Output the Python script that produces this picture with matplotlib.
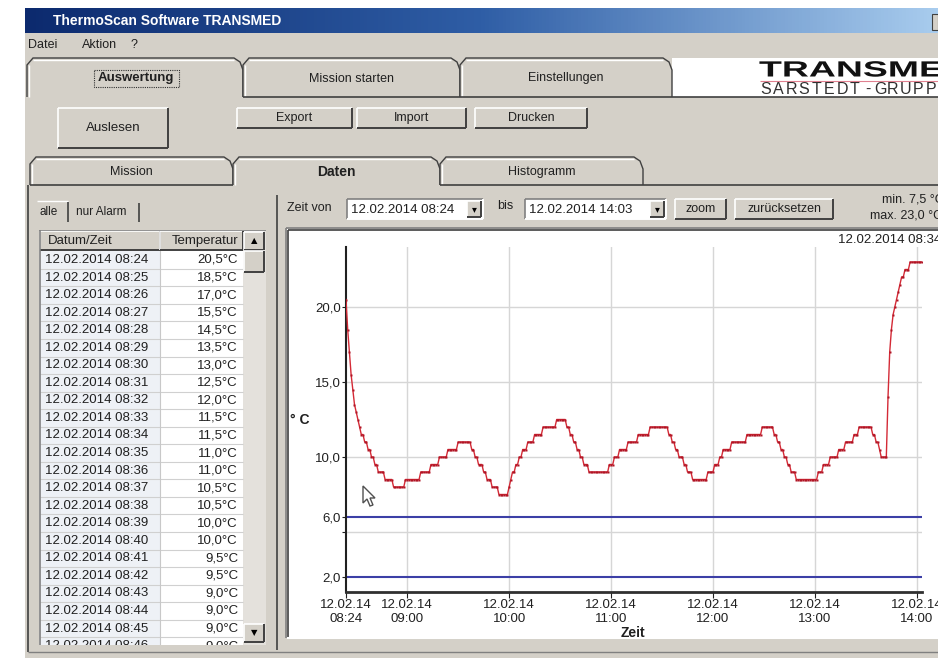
import numpy as np
import matplotlib
matplotlib.use('Agg')
import matplotlib.pyplot as plt
import matplotlib.dates as mdates
from matplotlib.patches import Rectangle, Polygon, PathPatch
from matplotlib.colors import LinearSegmentedColormap
from matplotlib.textpath import TextPath
from matplotlib.font_manager import FontProperties
from matplotlib.transforms import Affine2D

plt.rcParams['font.family'] = ['Liberation Sans', 'DejaVu Sans']

# temperature log, one value per minute from 08:24, stored as steps (level, minutes)
step_levels = [20.5, 18.5, 17.0, 15.5, 14.5, 13.5, 13.0, 12.5, 12.0, 11.5, 11.0, 10.5, 10.0, 9.5, 9.0,
               8.5, 8.0, 8.5, 9.0, 9.5, 10.0, 10.5, 11.0,
               10.5, 10.0, 9.5, 9.0, 8.5, 8.0, 7.5,
               8.0, 8.5, 9.0, 9.5, 10.0, 10.5, 11.0, 11.5, 12.0, 12.5,
               12.0, 11.5, 11.0, 10.5, 10.0, 9.5, 9.0,
               9.5, 10.0, 10.5, 11.0, 11.5, 12.0,
               11.5, 11.0, 10.5, 10.0, 9.5, 9.0, 8.5,
               9.0, 9.5, 10.0, 10.5, 11.0, 11.5, 12.0,
               11.5, 11.0, 10.5, 10.0, 9.5, 9.0, 8.5,
               9.0, 9.5, 10.0, 10.5, 11.0, 11.5, 12.0,
               11.5, 11.0, 10.5, 10.0,
               14.0, 17.0, 18.5, 19.5, 20.0, 20.5, 21.0, 21.5, 22.0, 22.5, 23.0]
step_minutes = [1, 1, 1, 1, 1, 1, 1, 1, 1, 2, 2, 2, 2, 2, 4,
                5, 7, 9, 6, 5, 5, 6, 8,
                2, 2, 3, 2, 3, 4, 6,
                1, 1, 2, 2, 2, 3, 4, 5, 8, 6,
                2, 2, 2, 2, 2, 3, 12,
                3, 3, 5, 6, 7, 11,
                2, 2, 2, 3, 2, 3, 9,
                4, 3, 2, 5, 9, 9, 7,
                2, 2, 2, 2, 2, 3, 13,
                3, 4, 5, 4, 5, 3, 8,
                2, 2, 1, 4,
                1, 1, 1, 1, 1, 1, 1, 1, 2, 3, 8]

start_time = np.datetime64('2014-02-12T08:24')
temps = np.repeat(step_levels, step_minutes)
times = start_time + np.arange(len(temps)) * np.timedelta64(1, 'm')

alarm_levels = [6.0, 2.0]
grid_levels = [5, 10, 15, 20]
y_ticks = [2, 5, 6, 10, 15, 20]
y_tick_labels = ['2,0', '', '6,0', '10,0', '15,0', '20,0']
x_ticks = np.array(['2014-02-12T08:24', '2014-02-12T09:00', '2014-02-12T10:00', '2014-02-12T11:00',
                    '2014-02-12T12:00', '2014-02-12T13:00', '2014-02-12T14:00'], dtype='datetime64[m]')
table_rows = 23
cursor_index = 10

W, H = 938, 658
FACE = '#D4D0C8'
DARK = '#404040'
MID = '#808080'


def frac(x0, y0, x1, y1):
    return [x0 / W, 1 - y1 / H, (x1 - x0) / W, (y1 - y0) / H]


def fmt_c(v):
    return ('%.1f' % v).replace('.', ',')


def fmt_dt(t):
    s = str(t)
    return '%s.%s.%s %s' % (s[8:10], s[5:7], s[0:4], s[11:16])


fig = plt.figure(figsize=(W / 100, H / 100), dpi=100)
ui = fig.add_axes([0, 0, 1, 1])
ui.axis('off')


def line(x0, y0, x1, y1, c=DARK, lw=1, ax=None):
    (ax or ui).plot([x0, x1], [y0, y1], color=c, lw=lw, solid_capstyle='butt')


def bevel(x0, y0, x1, y1, face=FACE, raised=True, ax=None):
    a = ax or ui
    a.add_patch(Rectangle((x0, y0), x1 - x0, y1 - y0, facecolor=face, edgecolor='none'))
    lt, dk = ('white', DARK) if raised else (MID, 'white')
    line(x0, y0, x1, y0, lt, 1.2, a)
    line(x0, y0, x0, y1, lt, 1.2, a)
    line(x0, y1, x1, y1, dk, 1.4, a)
    line(x1, y0, x1, y1, dk, 1.4, a)


def button(x0, y0, x1, y1, label, size=9):
    bevel(x0, y0, x1, y1)
    ui.text((x0 + x1) / 2, (y0 + y1) / 2, label, ha='center', va='center', fontsize=size, color='#202020')


def tab(x0, x1, y0, y1, label, active=False, bold=False, size=9):
    pts = [(x0, y1), (x0, y0 + 7), (x0 + 6, y0), (x1 - 9, y0), (x1 - 3, y0 + 4), (x1, y0 + 12), (x1, y1)]
    ui.add_patch(Polygon(pts, closed=False, facecolor=FACE, edgecolor=DARK, lw=1))
    line(x0 + 1.5, y1, x0 + 1.5, y0 + 7, 'white', 1)
    line(x0 + 6, y0 + 1.5, x1 - 9, y0 + 1.5, 'white', 1)
    if not active:
        line(x0, y1, x1, y1, DARK, 1.2)
    ui.text((x0 + x1) / 2, (y0 + y1) / 2 + 1, label, ha='center', va='center', fontsize=size,
            fontweight='bold' if bold else 'normal', color='#202020')


# window frame, title bar and menu
ui.add_patch(Rectangle((25, 33), W - 25, H - 33, facecolor=FACE, edgecolor='none'))
grad = LinearSegmentedColormap.from_list('tb', ['#0C2A6E', '#2F5EA6', '#A8CCEE'])
ui.imshow(np.linspace(0, 1, 256)[None, :], cmap=grad, extent=(25, W, 33, 8), aspect='auto')
ui.add_patch(Rectangle((932, 14), 6, 16, facecolor=FACE, edgecolor=DARK, lw=0.8))
ui.text(53, 21, 'ThermoScan Software TRANSMED', color='white', fontsize=10, fontweight='bold', va='center')
for x, s in [(28, 'Datei'), (82, 'Aktion'), (131, '?')]:
    ui.text(x, 45, s, fontsize=9, va='center', color='#202020')

# main tabs and logo
ui.add_patch(Rectangle((672, 58), W - 672, 39, facecolor='white', edgecolor='none'))
line(672, 97, W, 97, DARK, 1.2)
tab(27, 243, 58, 97, '', active=True)
ui.text(136, 78, 'Auswertung', ha='center', va='center', fontsize=9.5, fontweight='bold', color='#202020')
ui.add_patch(Rectangle((94, 70), 85, 17, facecolor='none', edgecolor='#303030', lw=0.8, ls=(0, (1, 1))))
tab(243, 460, 58, 97, 'Mission starten')
tab(460, 672, 58, 97, 'Einstellungen')

logo = TextPath((0, 0), 'TRANSMED', size=22, prop=FontProperties(family='Liberation Sans', weight='bold'))
ui.add_patch(PathPatch(Affine2D().scale(1.7, -1).translate(759, 76.5).transform_path(logo),
                       facecolor='#111111', edgecolor='none'))
line(760, 80.5, W, 80.5, '#E08090', 0.8)
for i, ch in enumerate('SARSTEDT-GRUPPE'):
    ui.text(766 + i * 12.7, 89, ch, fontsize=11.5, ha='center', va='center', color='#303030')

# toolbar buttons
button(58, 108, 168, 148, 'Auslesen', 9.5)
button(237, 108, 352, 128, 'Export')
button(357, 108, 466, 128, 'Import')
button(475, 108, 587, 128, 'Drucken')

# second tab row
tab(30, 233, 157, 185, 'Mission')
tab(233, 440, 157, 185, 'Daten', active=True, bold=True, size=10)
tab(440, 643, 157, 185, 'Histogramm')
line(643, 185, W, 185, DARK, 1.2)
line(28, 185, 28, 652, DARK, 1.2)
line(28, 652, W, 652, MID, 1)
line(277, 195, 277, 650, DARK, 1.2)

# list sub tabs
line(37, 201, 68, 201, 'white', 1)
line(68, 202, 68, 222, DARK, 1.2)
line(139, 203, 139, 222, DARK, 1.2)
ui.text(40, 212, 'alle', fontsize=8.5, va='center', color='#202020')
ui.text(76, 212, 'nur Alarm', fontsize=8.5, va='center', color='#202020')

# data table
tab_ax = fig.add_axes(frac(39, 230, 266, 645))
tab_ax.set_xlim(39, 266)
tab_ax.set_ylim(645, 230)
tab_ax.axis('off')
tab_ax.add_patch(Rectangle((39, 230), 121, 415, facecolor='#EEF1F6', edgecolor='none'))
tab_ax.add_patch(Rectangle((160, 230), 83, 415, facecolor='white', edgecolor='none'))
tab_ax.add_patch(Rectangle((243, 230), 23, 415, facecolor='#E4E1DC', edgecolor='none'))
row_h = 17.55
for i in range(table_rows):
    yc = 260 + i * row_h
    line(40, yc + row_h / 2, 243, yc + row_h / 2, '#D0D0D0', 0.8, tab_ax)
    tab_ax.text(45, yc, fmt_dt(times[i]), fontsize=9.5, va='center', color='#202020', clip_on=True)
    tab_ax.text(238, yc, fmt_c(temps[i]) + '°C', fontsize=9.5, va='center', ha='right',
                color='#202020', clip_on=True)
line(160, 250, 160, 645, '#C8C8C8', 0.8, tab_ax)
bevel(40, 231, 160, 250, ax=tab_ax)
bevel(160, 231, 243, 250, ax=tab_ax)
tab_ax.text(48, 241, 'Datum/Zeit', fontsize=9.5, va='center', color='#202020')
tab_ax.text(238, 241, 'Temperatur', fontsize=9.5, va='center', ha='right', color='#202020')
bevel(244, 232, 264, 250, ax=tab_ax)
tab_ax.text(254, 241, '▲', fontsize=6, ha='center', va='center', color='black', family='DejaVu Sans')
bevel(244, 251, 264, 272, ax=tab_ax)
bevel(244, 624, 264, 642, ax=tab_ax)
tab_ax.text(254, 633, '▼', fontsize=6, ha='center', va='center', color='black', family='DejaVu Sans')
line(39.5, 230, 39.5, 645, MID, 1.2, tab_ax)
line(39, 230.5, 266, 230.5, MID, 1.2, tab_ax)

# range controls
ui.text(287, 208, 'Zeit von', fontsize=9, va='center', color='#202020')
for x0, x1, t in [(347, 483, times[0]), (525, 666, times[-1])]:
    bevel(x0, 199, x1, 219, face='white', raised=False)
    ui.text(x0 + 4, 210, fmt_dt(t), fontsize=9.5, va='center', color='#202020')
    bevel(x1 - 16, 201, x1 - 2, 217)
    ui.text(x1 - 9, 209, '▾', fontsize=7, ha='center', va='center', color='black', family='DejaVu Sans')
ui.text(497, 206, 'bis', fontsize=9, va='center', color='#202020')
button(675, 199, 726, 219, 'zoom')
button(735, 199, 833, 219, 'zurücksetzen')
ui.text(882, 199, 'min. %s °C' % fmt_c(temps.min()), fontsize=9, va='center', color='#202020')
ui.text(870, 215, 'max. %s °C' % fmt_c(temps.max()), fontsize=9, va='center', color='#202020')

# chart panel
ui.add_patch(Rectangle((287, 229), W - 287, 408, facecolor='white', edgecolor='none'))
line(286, 228, W, 228, MID, 1.2)
line(286, 228, 286, 638, MID, 1.2)
line(288, 230, W, 230, DARK, 1.2)
line(288, 230, 288, 637, DARK, 1.2)
line(287, 638, W, 638, 'white', 1.5)
ui.text(838, 240, fmt_dt(times[cursor_index]), fontsize=9.5, va='center', color='#202020')
ui.text(290, 420, '° C', fontsize=10, fontweight='bold', va='center', color='#202020')
ui.text(633, 633, 'Zeit', fontsize=10, fontweight='bold', ha='center', va='center', color='#202020')

ax = fig.add_axes(frac(346, 247, 922, 592))
ax.patch.set_alpha(0)
ax.set_xlim(times[0], times[-1])
ax.set_ylim(1, 24)
for g in grid_levels:
    ax.axhline(g, color='#D6D6D6', lw=1, zorder=1)
for t in x_ticks[1:]:
    ax.axvline(t, color='#D6D6D6', lw=1, zorder=1)
for a in alarm_levels:
    ax.axhline(a, color='#3C3FA6', lw=1.5, zorder=2)
ax.plot(times, temps, color='#D42A36', lw=1.0, marker='s', ms=1.8, mfc='#B01424', mec='none', zorder=3)

for s in ['top', 'right']:
    ax.spines[s].set_visible(False)
ax.spines['left'].set_color('#202020')
ax.spines['left'].set_linewidth(1.5)
ax.spines['bottom'].set_color('#303030')
ax.spines['bottom'].set_linewidth(2)
ax.set_yticks(y_ticks)
ax.set_yticklabels(y_tick_labels)
ax.set_xticks(x_ticks)
ax.xaxis.set_major_formatter(mdates.DateFormatter('%d.%m.%y\n%H:%M'))
ax.tick_params(axis='y', length=3, pad=0.5, labelsize=9.5, colors='#202020')
ax.tick_params(axis='x', length=4, pad=1, labelsize=9.5, colors='#202020')

# mouse pointer
tip = np.array([363, 486])
arrow = np.array([(0, 0), (0, 17), (4, 13), (7, 20), (10, 19), (7, 12), (12, 12)]) + tip
ui.add_patch(Polygon(arrow, closed=True, facecolor='white', edgecolor='#505050', lw=1, zorder=5))

ui.set_xlim(0, W)
ui.set_ylim(H, 0)
fig.savefig('out.png', dpi=100, facecolor='white')
